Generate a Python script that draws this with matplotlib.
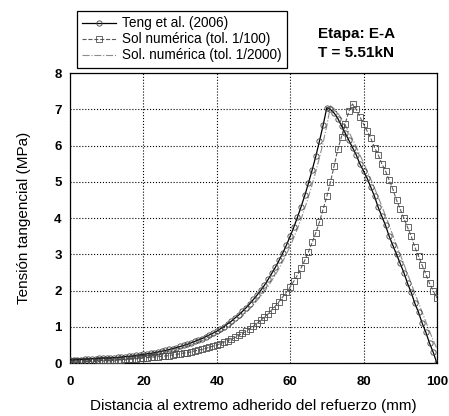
import numpy as np
from matplotlib import pyplot as plt

plt.rcParams['font.family'] = ['Liberation Sans', 'DejaVu Sans']

# distancia (mm), un punto por mm
dist = np.arange(0, 101)

teng = [0.09, 0.09, 0.10, 0.10, 0.11, 0.11, 0.12, 0.12, 0.13, 0.14,
        0.14, 0.14, 0.15, 0.16, 0.17, 0.18, 0.19, 0.20, 0.22, 0.23,
        0.24, 0.26, 0.27, 0.29, 0.31, 0.33, 0.35, 0.38, 0.40, 0.43,
        0.46, 0.49, 0.52, 0.56, 0.60, 0.64, 0.68, 0.73, 0.78, 0.83,
        0.88, 0.95, 1.01, 1.09, 1.16, 1.25, 1.33, 1.43, 1.53, 1.64,
        1.76, 1.88, 2.01, 2.15, 2.31, 2.48, 2.65, 2.84, 3.04, 3.26,
        3.50, 3.75, 4.03, 4.32, 4.63, 4.97, 5.33, 5.71, 6.13, 6.57,
        7.05, 7.00, 6.90, 6.75, 6.55, 6.35, 6.15, 5.95, 5.75, 5.50,
        5.30, 5.10, 4.85, 4.60, 4.30, 4.05, 3.80, 3.50, 3.25, 3.00,
        2.75, 2.50, 2.20, 1.95, 1.65, 1.40, 1.10, 0.85, 0.55, 0.30,
        0.00]

tol100 = [0.06, 0.06, 0.06, 0.06, 0.07, 0.07, 0.07, 0.07, 0.08, 0.08,
          0.09, 0.09, 0.09, 0.10, 0.10, 0.11, 0.11, 0.12, 0.12, 0.13,
          0.14, 0.15, 0.16, 0.17, 0.18, 0.19, 0.20, 0.21, 0.23, 0.24,
          0.26, 0.28, 0.29, 0.31, 0.34, 0.36, 0.38, 0.41, 0.44, 0.47,
          0.50, 0.54, 0.58, 0.62, 0.66, 0.71, 0.77, 0.82, 0.88, 0.95,
          1.02, 1.10, 1.18, 1.27, 1.36, 1.47, 1.58, 1.70, 1.83, 1.96,
          2.10, 2.26, 2.43, 2.63, 2.84, 3.07, 3.33, 3.60, 3.90, 4.25,
          4.60, 5.00, 5.45, 5.90, 6.25, 6.60, 6.95, 7.15, 7.00, 6.80,
          6.60, 6.40, 6.20, 5.95, 5.75, 5.50, 5.30, 5.05, 4.80, 4.50,
          4.25, 4.00, 3.75, 3.50, 3.20, 2.95, 2.70, 2.45, 2.20, 2.00,
          1.80]

tol2000 = [0.07, 0.08, 0.08, 0.09, 0.09, 0.10, 0.10, 0.11, 0.11, 0.12,
           0.12, 0.13, 0.13, 0.14, 0.15, 0.16, 0.17, 0.18, 0.19, 0.20,
           0.21, 0.23, 0.24, 0.26, 0.28, 0.30, 0.32, 0.34, 0.36, 0.39,
           0.41, 0.44, 0.47, 0.50, 0.54, 0.58, 0.62, 0.66, 0.71, 0.76,
           0.81, 0.86, 0.92, 0.99, 1.06, 1.13, 1.22, 1.30, 1.40, 1.50,
           1.61, 1.73, 1.85, 1.98, 2.12, 2.28, 2.44, 2.62, 2.81, 3.01,
           3.23, 3.46, 3.71, 3.98, 4.28, 4.59, 4.93, 5.29, 5.67, 6.09,
           6.55, 7.10, 7.02, 6.90, 6.75, 6.57, 6.38, 6.18, 5.97, 5.75,
           5.53, 5.30, 5.07, 4.83, 4.58, 4.33, 4.07, 3.80, 3.53, 3.26,
           3.00, 2.73, 2.46, 2.20, 1.93, 1.67, 1.40, 1.14, 0.88, 0.63,
           0.40]

labels = ['Teng et al. (2006)', 'Sol numérica (tol. 1/100)', 'Sol. numérica (tol. 1/2000)']

fig = plt.figure(figsize=(4.49, 4.16), dpi=100)
ax = fig.add_axes([0.156, 0.127, 0.817, 0.697])

ax.plot(dist, tol2000, color='0.55', lw=0.8, ls='-.', label=labels[2], zorder=2)
ax.plot(dist, tol100, color='0.35', lw=0.8, ls='--', marker='s', ms=3.8,
        mfc='none', mec='0.3', mew=0.6, label=labels[1], zorder=3)
ax.plot(dist, teng, color='black', lw=0.9, ls='-', marker='o', ms=3.8,
        mfc='none', mec='0.25', mew=0.6, label=labels[0], zorder=4)

ax.set_xlim(0, 100)
ax.set_ylim(0, 8)
ax.set_xticks(range(0, 101, 20))
ax.set_yticks(range(0, 9))
ax.tick_params(length=0, labelsize=9.5)
ax.tick_params(axis='x', pad=9)
ax.tick_params(axis='y', pad=6)
for t in ax.get_xticklabels() + ax.get_yticklabels():
    t.set_fontweight('bold')
ax.grid(True, color='black', ls=':', lw=0.8)
for s in ax.spines.values():
    s.set_linewidth(0.9)

ax.set_xlabel('Distancia al extremo adherido del refuerzo (mm)', fontsize=11, labelpad=8)
ax.set_ylabel('Tensión tangencial (MPa)', fontsize=11, labelpad=17)

h, l = ax.get_legend_handles_labels()
order = [2, 1, 0]
leg = fig.legend([h[i] for i in order], [l[i] for i in order],
                 loc='upper left', bbox_to_anchor=(0.156, 0.99),
                 fontsize=9.8, handlelength=2.5, handletextpad=0.4,
                 labelspacing=0.15, borderpad=0.4, fancybox=False,
                 edgecolor='black', framealpha=1)
leg.get_frame().set_linewidth(0.9)

fig.text(0.708, 0.918, 'Etapa: E-A', fontsize=11, fontweight='bold', va='center')
fig.text(0.708, 0.873, 'T = 5.51kN', fontsize=11, fontweight='bold', va='center')

fig.savefig('out.png', dpi=100)
